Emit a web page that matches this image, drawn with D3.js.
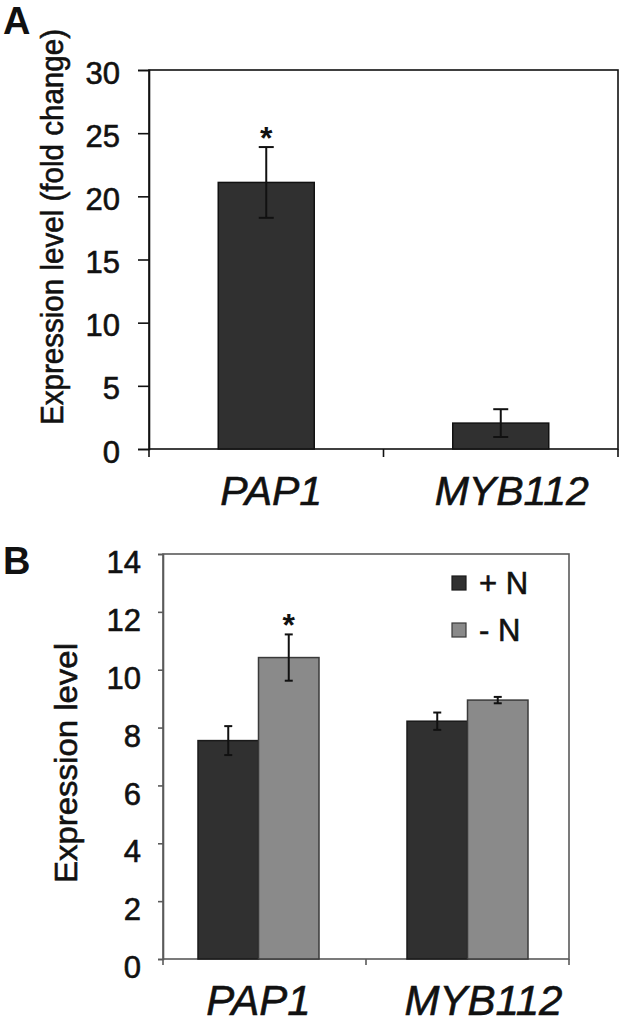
<!DOCTYPE html>
<html>
<head>
<meta charset="utf-8">
<script src="https://cdn.jsdelivr.net/npm/d3@7"></script>
<style>
  body { margin: 0; background: #fff; }
  svg { display: block; font-family: "Liberation Sans", Arial, sans-serif; }
  .heavy { stroke: #111; stroke-width: 0.6px; }
</style>
</head>
<body>
<svg id="fig" width="623" height="1024"></svg>
<script>
// Panel A data: fold change
const genes = ["PAP1", "MYB112"];
const foldChange = [21.1, 2.05];
const foldChangeErr = [2.8, 1.1];
const foldSig = [true, false];
const ticksA = [0, 5, 10, 15, 20, 25, 30];

// Panel B data: expression level under +N / -N
const conditions = ["+ N", "- N"];
const levelPlusN = [7.55, 8.22];
const errPlusN = [0.5, 0.3];
const levelMinusN = [10.42, 8.95];
const errMinusN = [0.8, 0.11];
const sigMinusN = [true, false];
const ticksB = [0, 2, 4, 6, 8, 10, 12, 14];

const svg = d3.select("#fig");

const dark = "#303030";
const light = "#8a8a8a";
const ink = "#111";

function errorBar(g, cx, v, e, y, cap) {
  g.append("line").attr("x1", cx).attr("x2", cx)
    .attr("y1", y(v - e)).attr("y2", y(v + e))
    .attr("stroke", ink).attr("stroke-width", 2);
  [v - e, v + e].forEach(t => {
    g.append("line").attr("x1", cx - cap / 2).attr("x2", cx + cap / 2)
      .attr("y1", y(t)).attr("y2", y(t))
      .attr("stroke", ink).attr("stroke-width", 2);
  });
}

// ---------- Panel A ----------
const A = { left: 149, right: 618, top: 70, bottom: 449 };
const xA = d3.scaleBand().domain(genes).range([A.left, A.right]);
const yA = d3.scaleLinear().domain([0, 30]).range([A.bottom, A.top]);
const gA = svg.append("g");

gA.append("rect")
  .attr("x", A.left).attr("y", A.top)
  .attr("width", A.right - A.left).attr("height", A.bottom - A.top)
  .attr("fill", "none").attr("stroke", ink).attr("stroke-width", 1.6);

const axA = gA.append("g")
  .attr("transform", `translate(${A.left},0)`)
  .call(d3.axisLeft(yA).tickValues(ticksA).tickSize(11).tickPadding(18));
axA.select(".domain").attr("stroke", ink).attr("stroke-width", 1.6);
axA.selectAll(".tick line").attr("stroke", ink).attr("stroke-width", 1.6);
axA.selectAll(".tick text").attr("font-size", 31).attr("fill", ink).attr("class", "heavy")
  .attr("font-family", "Liberation Sans, Arial, sans-serif").attr("dy", "0.42em");

// x ticks at category boundaries
gA.selectAll(".xtick").data([A.left, A.left + xA.bandwidth(), A.right])
  .join("line")
  .attr("x1", d => d).attr("x2", d => d)
  .attr("y1", A.bottom).attr("y2", A.bottom + 8)
  .attr("stroke", ink).attr("stroke-width", 1.6);

const barWA = 96;
gA.selectAll(".bar").data(genes).join("rect")
  .attr("x", d => xA(d) + (xA.bandwidth() - barWA) / 2)
  .attr("width", barWA)
  .attr("y", (d, i) => yA(foldChange[i]))
  .attr("height", (d, i) => yA(0) - yA(foldChange[i]))
  .attr("fill", dark).attr("stroke", ink).attr("stroke-width", 1.5);

genes.forEach((gname, i) => {
  const cx = xA(gname) + xA.bandwidth() / 2;
  errorBar(gA, cx, foldChange[i], foldChangeErr[i], yA, 15);
  if (foldSig[i]) {
    gA.append("text").attr("x", cx).attr("y", yA(foldChange[i] + foldChangeErr[i]) + 2)
      .attr("text-anchor", "middle").attr("font-size", 32).attr("font-weight", "bold")
      .attr("fill", ink).text("*");
  }
});

const labelShiftA = [5, 11];
gA.selectAll(".xlab").data(genes).join("text")
  .attr("class", "heavy")
  .attr("x", (d, i) => xA(d) + xA.bandwidth() / 2 + labelShiftA[i])
  .attr("y", 505)
  .attr("text-anchor", "middle").attr("font-size", 41).attr("font-style", "italic")
  .attr("fill", ink).text(d => d);

gA.append("text")
  .attr("class", "heavy")
  .attr("transform", `translate(63,227) rotate(-90)`)
  .attr("text-anchor", "middle").attr("font-size", 31).attr("fill", ink)
  .attr("textLength", 396).attr("lengthAdjust", "spacingAndGlyphs")
  .text("Expression level (fold change)");

svg.append("text").attr("x", 3).attr("y", 34)
  .attr("font-size", 38).attr("font-weight", "bold").attr("fill", ink).text("A");

// ---------- Panel B ----------
const B = { left: 163, right: 569, top: 554, bottom: 959 };
const xB = d3.scaleBand().domain(genes).range([B.left, B.right]);
const xSub = d3.scaleBand().domain(conditions).range([0, 121]);
const yB = d3.scaleLinear().domain([0, 14]).range([B.bottom, B.top]);
const gB = svg.append("g");
const axisGray = "#5a5a5a";

gB.append("rect")
  .attr("x", B.left).attr("y", B.top)
  .attr("width", B.right - B.left).attr("height", B.bottom - B.top)
  .attr("fill", "none").attr("stroke", axisGray).attr("stroke-width", 1.6);

const axB = gB.append("g")
  .attr("transform", `translate(${B.left},0)`)
  .call(d3.axisLeft(yB).tickValues(ticksB).tickSize(5).tickPadding(17));
axB.select(".domain").attr("stroke", axisGray).attr("stroke-width", 1.6);
axB.selectAll(".tick line").attr("stroke", axisGray).attr("stroke-width", 1.6);
axB.selectAll(".tick text").attr("font-size", 31).attr("fill", ink).attr("class", "heavy")
  .attr("font-family", "Liberation Sans, Arial, sans-serif").attr("dy", "0.6em");

gB.selectAll(".xtick").data([B.left, B.left + xB.bandwidth(), B.right])
  .join("line")
  .attr("x1", d => d).attr("x2", d => d)
  .attr("y1", B.bottom).attr("y2", B.bottom + 6)
  .attr("stroke", axisGray).attr("stroke-width", 1.6);

const seriesB = [
  { name: conditions[0], vals: levelPlusN, errs: errPlusN, fill: dark, stroke: "#1a1a1a", sig: [false, false] },
  { name: conditions[1], vals: levelMinusN, errs: errMinusN, fill: light, stroke: "#3a3a3a", sig: sigMinusN }
];

const groupShiftB = [-6, 0];
genes.forEach((gname, i) => {
  const x0 = xB(gname) + (xB.bandwidth() - 121) / 2 + groupShiftB[i];
  seriesB.forEach(s => {
    const bx = x0 + xSub(s.name);
    gB.append("rect")
      .attr("x", bx).attr("width", xSub.bandwidth())
      .attr("y", yB(s.vals[i])).attr("height", yB(0) - yB(s.vals[i]))
      .attr("fill", s.fill).attr("stroke", s.stroke).attr("stroke-width", 1.5);
  });
  seriesB.forEach(s => {
    const cx = x0 + xSub(s.name) + xSub.bandwidth() / 2;
    errorBar(gB, cx, s.vals[i], s.errs[i], yB, 8);
    if (s.sig[i]) {
      gB.append("text").attr("x", cx).attr("y", yB(s.vals[i] + s.errs[i]) + 2)
        .attr("text-anchor", "middle").attr("font-size", 32).attr("font-weight", "bold")
        .attr("fill", ink).text("*");
    }
  });
});

const labelShiftB = [-6, 16];
gB.selectAll(".xlab").data(genes).join("text")
  .attr("class", "heavy")
  .attr("x", (d, i) => xB(d) + xB.bandwidth() / 2 + labelShiftB[i])
  .attr("y", 1015)
  .attr("text-anchor", "middle").attr("font-size", 42).attr("font-style", "italic")
  .attr("fill", ink).text(d => d);

gB.append("text")
  .attr("class", "heavy")
  .attr("transform", `translate(77,763) rotate(-90)`)
  .attr("text-anchor", "middle").attr("font-size", 32).attr("fill", ink)
  .attr("textLength", 240).attr("lengthAdjust", "spacingAndGlyphs")
  .text("Expression level");

svg.append("text").attr("x", 3).attr("y", 574)
  .attr("font-size", 38).attr("font-weight", "bold").attr("fill", ink).text("B");

// legend
const leg = gB.append("g").attr("transform", "translate(452,576)");
seriesB.forEach((s, i) => {
  const row = leg.append("g").attr("transform", `translate(0,${i * 47})`);
  row.append("rect").attr("width", 14).attr("height", 14)
    .attr("fill", s.fill).attr("stroke", s.stroke).attr("stroke-width", 1.2);
  row.append("text").attr("class", "heavy").attr("x", 27).attr("y", 18)
    .attr("font-size", 31).attr("fill", ink).text(s.name);
});
</script>
</body>
</html>
